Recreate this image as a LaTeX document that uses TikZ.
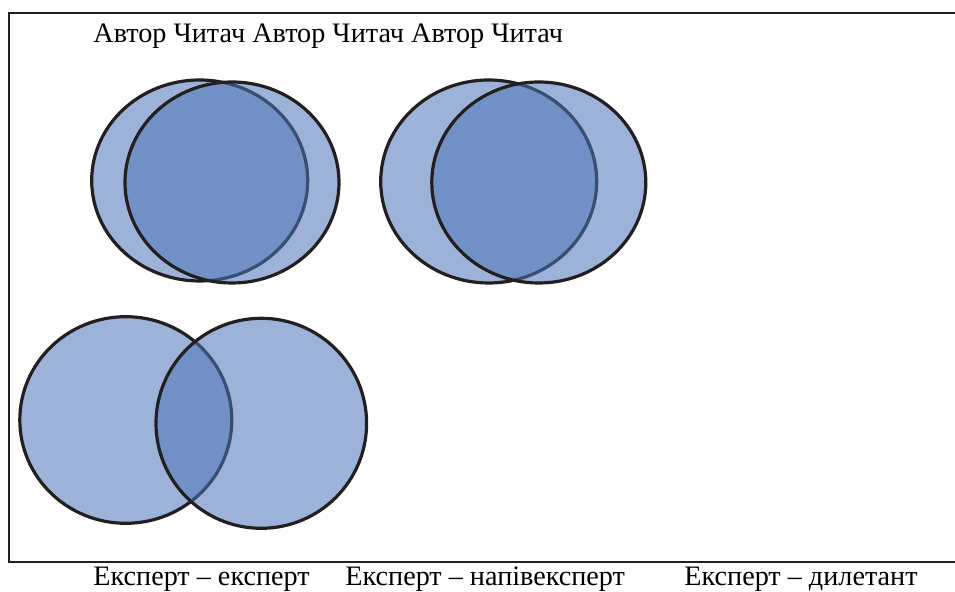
\documentclass[tikz,border=0pt]{standalone}
\usepackage{fontspec}
\setmainfont{Liberation Serif}
\usepackage{xcolor}
\definecolor{vennblue}{HTML}{4D73B8}
\definecolor{vennline}{HTML}{231F20}
\tikzset{
  venn/.style={draw=vennline,line width=1.6pt,fill=vennblue,fill opacity=0.55},
  caption/.style={anchor=base west,inner sep=0pt,font=\fontsize{14.1}{16}\selectfont}
}

\begin{document}
\begin{tikzpicture}[x=0.5pt,y=-0.5pt]
  \useasboundingbox (0,0) rectangle (955,592);
  \draw[vennline,line width=0.65pt] (956,13) -- (9,13) -- (9,562) -- (956,562);
  % top pair
  \draw[venn] (199.7,180.5) ellipse [x radius=108, y radius=100.5];
  \draw[venn] (232,182.5) ellipse [x radius=107, y radius=100.5];
  % middle pair
  \draw[venn] (488.7,181.5) ellipse [x radius=108, y radius=101.5];
  \draw[venn] (538.8,182.5) ellipse [x radius=107, y radius=100.5];
  % bottom pair
  \draw[venn] (125.8,420) ellipse [x radius=106, y radius=103.3];
  \draw[venn] (261.3,423.3) ellipse [x radius=105.3, y radius=105];
  % labels
  \node[caption] (roles) at (93,43) {Автор Читач Автор Читач Автор Читач};
  \node[caption] (expexp) at (93,585.5) {Експерт – експерт};
  \node[caption] (exphalf) at (345,585.5) {Експерт – напівексперт};
  \node[caption] (expdil) at (684,585.5) {Експерт – дилетант};
\end{tikzpicture}
\end{document}
